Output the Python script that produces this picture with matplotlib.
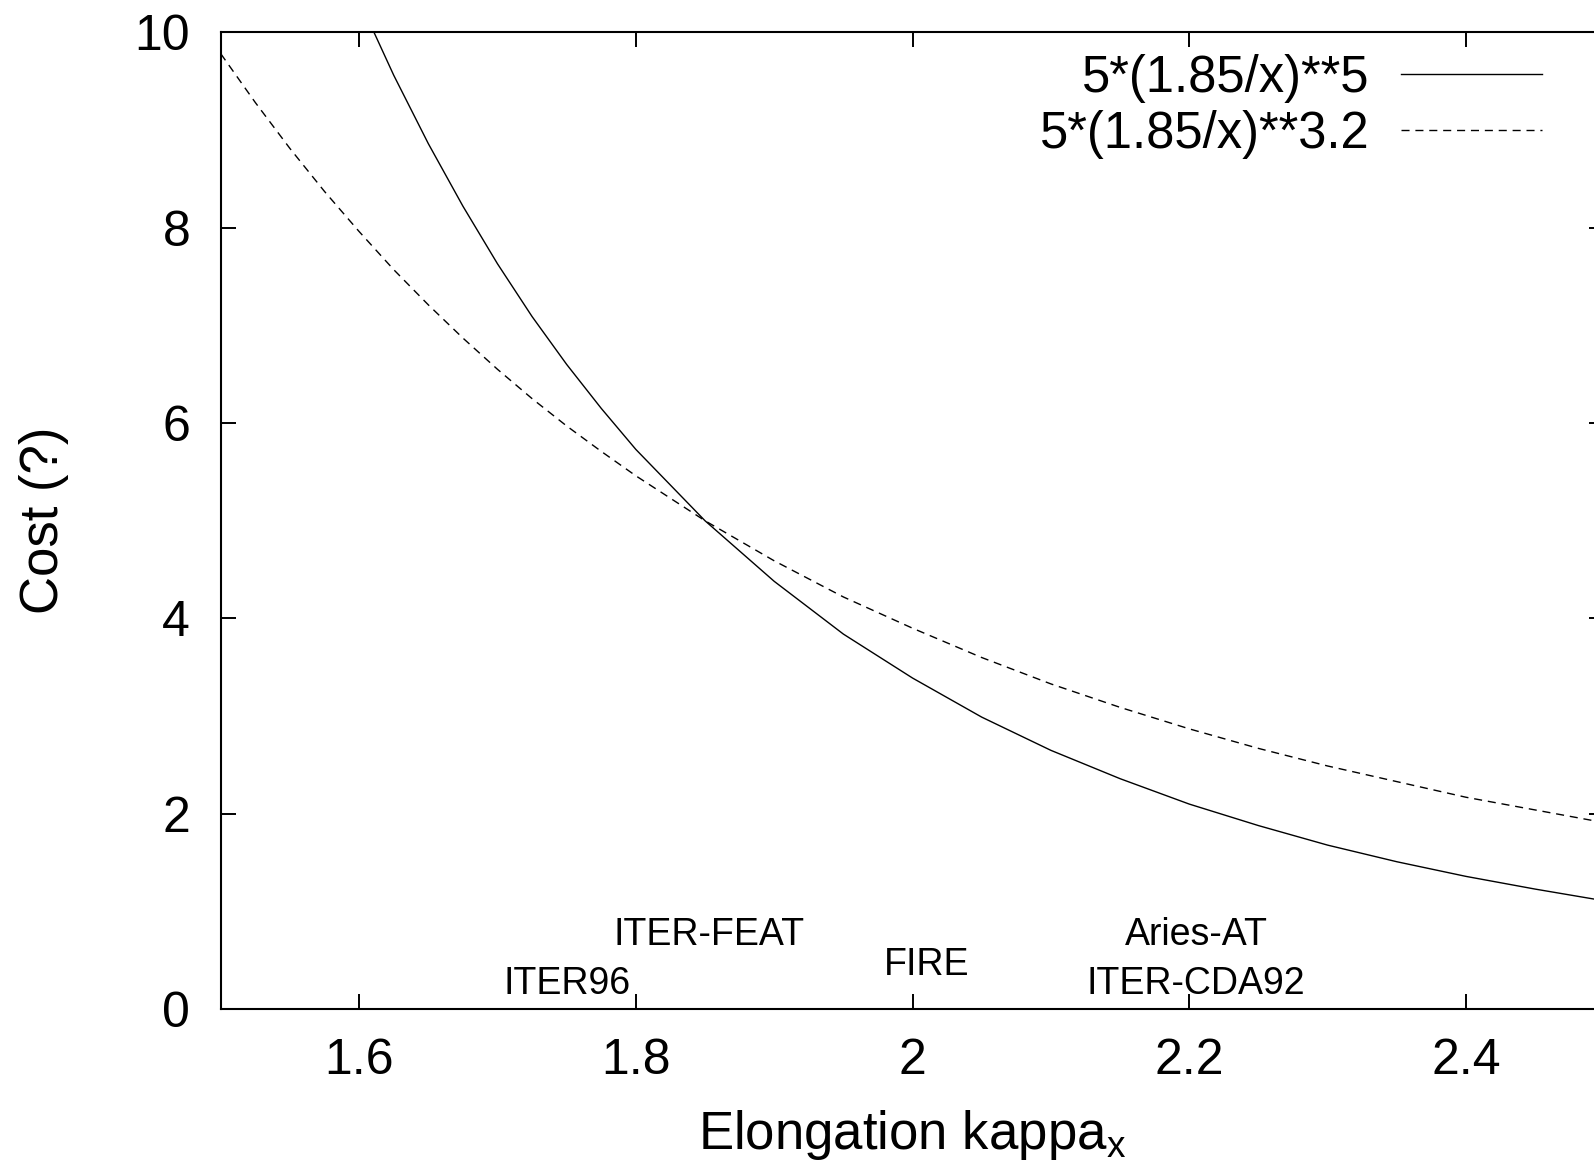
import matplotlib
matplotlib.use('Agg')
import matplotlib.pyplot as plt

# valeurs
x_steep = [1.60, 1.625, 1.65, 1.675, 1.70, 1.725, 1.75, 1.775, 1.80, 1.85, 1.90, 1.95,
           2.00, 2.05, 2.10, 2.15, 2.20, 2.25, 2.30, 2.35, 2.40, 2.45, 2.50]
cost_p5 = [10.33, 9.56, 8.86, 8.22, 7.63, 7.09, 6.60, 6.15, 5.73, 5.00, 4.38, 3.84,
           3.39, 2.99, 2.65, 2.36, 2.10, 1.88, 1.68, 1.51, 1.36, 1.23, 1.11]

x_soft = [1.50, 1.525, 1.55, 1.575, 1.60, 1.625, 1.65, 1.675, 1.70, 1.725, 1.75, 1.775,
          1.80, 1.85, 1.90, 1.95, 2.00, 2.05, 2.10, 2.15, 2.20, 2.25, 2.30, 2.35,
          2.40, 2.45, 2.50]
cost_p32 = [9.78, 9.28, 8.81, 8.37, 7.96, 7.57, 7.21, 6.87, 6.55, 6.25, 5.97, 5.71,
            5.46, 5.00, 4.59, 4.22, 3.90, 3.60, 3.33, 3.09, 2.87, 2.67, 2.49, 2.33,
            2.17, 2.04, 1.91]

legend_labels = ['5*(1.85/x)**5', '5*(1.85/x)**3.2']

machines = ['ITER96', 'ITER-FEAT', 'FIRE', 'Aries-AT', 'ITER-CDA92']
machine_kappa = [1.75, 1.853, 2.01, 2.205, 2.205]
machine_y = [0.3, 0.8, 0.5, 0.8, 0.3]

x_ticks = [1.6, 1.8, 2.0, 2.2, 2.4]
x_ticklabels = ['1.6', '1.8', '2', '2.2', '2.4']
y_ticks = [0, 2, 4, 6, 8, 10]

plt.rcParams['font.family'] = ['Liberation Sans', 'DejaVu Sans']
plt.rcParams['mathtext.fontset'] = 'custom'
plt.rcParams['mathtext.rm'] = 'Liberation Sans'

fig = plt.figure(figsize=(15.94, 11.68), dpi=100)
ax = fig.add_axes([0.1385, 0.1359, 0.8680, 0.8365])

ax.plot(x_steep, cost_p5, color='black', lw=1.0, label=legend_labels[0])
ax.plot(x_soft, cost_p32, color='black', lw=1.0, linestyle=(0, (5.8, 4.2)),
        label=legend_labels[1])

# etiquettes des machines
for name, kx, ky in zip(machines, machine_kappa, machine_y):
    ax.annotate(name, (kx, ky), xytext=(0, -3), textcoords='offset points',
                ha='center', va='center', fontsize=27)

ax.set_xlim(1.5, 2.5)
ax.set_ylim(0, 10)
ax.set_xticks(x_ticks)
ax.set_xticklabels(x_ticklabels)
ax.set_yticks(y_ticks)
ax.tick_params(direction='in', length=10.8, width=1.4, top=True, right=True,
               labelsize=36)
ax.tick_params(axis='y', pad=22)
ax.tick_params(axis='x', pad=21)
for sp in ax.spines.values():
    sp.set_linewidth(1.5)

ax.set_xlabel('Elongation kappa$_{\\mathrm{x}}$', fontsize=38, labelpad=17)
ax.set_ylabel('Cost (?)', fontsize=38, labelpad=47)

ax.legend(loc='upper right', bbox_to_anchor=(0.955, 0.978), frameon=False,
          markerfirst=False, fontsize=36.5, handlelength=2.78, handletextpad=0.62,
          labelspacing=0.14, borderpad=0, borderaxespad=0)

fig.savefig('out.png', dpi=100)
